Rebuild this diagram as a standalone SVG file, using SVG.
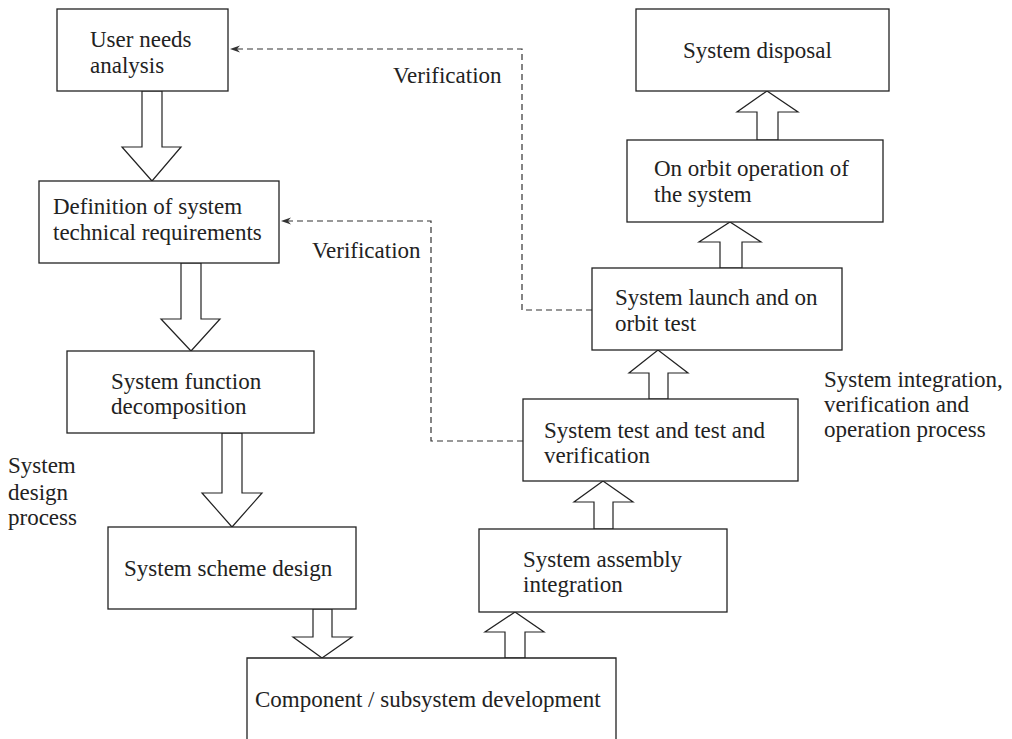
<svg xmlns="http://www.w3.org/2000/svg" width="1012" height="739" viewBox="0 0 1012 739">
  <style>
    .box { fill: #fff; stroke: #222; stroke-width: 1.3; }
    .flow { fill: #fff; stroke: #222; stroke-width: 1.2; stroke-linejoin: miter; }
    .dash { fill: none; stroke: #333; stroke-width: 1.2; stroke-dasharray: 6 4; }
    .tip { fill: #333; stroke: none; }
    text { font-family: "Liberation Serif", "Times New Roman", serif; font-size: 23px; fill: #222; }
  </style>
  <defs>
    <!-- small barbed arrowhead pointing left, tip at origin -->
    <path id="barb" class="tip" d="M0,0 L10,-3.5 L7,0 L10,3.5 Z"/>
  </defs>

  <rect width="1012" height="739" fill="#fff"/>

  <!-- hollow block arrows and dashed feedback lines -->
  <g id="connectors">
    <!-- design chain (downward) -->
    <polygon class="flow" points="142,91 162,91 162,147 181,147 152,181 122,147 142,147"/>
    <polygon class="flow" points="181,263 201,263 201,319 220,319 191,351 161,319 181,319"/>
    <polygon class="flow" points="222,433 242,433 242,493 262,493 232,527 202,493 222,493"/>
    <polygon class="flow" points="313,609 332,609 332,637 352,637 322,658 293,637 313,637"/>
    <!-- integration chain (upward) -->
    <polygon class="flow" points="505,658 525,658 525,632 544,632 515,612 485,632 505,632"/>
    <polygon class="flow" points="594,529 613,529 613,502 633,502 603,481 574,502 594,502"/>
    <polygon class="flow" points="649,399 668,399 668,373 688,373 658,350 629,373 649,373"/>
    <polygon class="flow" points="720,268 742,268 742,242 761,242 730,222 699,242 720,242"/>
    <polygon class="flow" points="757,140 778,140 778,112 798,112 767,91 737,112 757,112"/>
    <!-- verification feedback -->
    <path class="dash" d="M592,310 H522 V49 H236"/>
    <use href="#barb" x="230" y="49"/>
    <path class="dash" d="M523,441 H431 V221 H287"/>
    <use href="#barb" x="281" y="221"/>
    <text x="393" y="83">Verification</text>
    <text x="312" y="258">Verification</text>
  </g>

  <g id="user-needs">
    <rect class="box" x="57" y="9" width="171" height="82"/>
    <text x="90" y="47">User needs</text>
    <text x="90" y="73">analysis</text>
  </g>

  <g id="tech-requirements">
    <rect class="box" x="39" y="181" width="240" height="82"/>
    <text x="53" y="214">Definition of system</text>
    <text x="53" y="240">technical requirements</text>
  </g>

  <g id="function-decomposition">
    <rect class="box" x="67" y="351" width="247" height="82"/>
    <text x="111" y="389">System function</text>
    <text x="111" y="414">decomposition</text>
  </g>

  <g id="scheme-design">
    <rect class="box" x="108" y="527" width="248" height="82"/>
    <text x="124" y="576">System scheme design</text>
  </g>

  <g id="component-development">
    <path class="box" d="M247,745 V658 H616 V745"/>
    <text x="255" y="707">Component / subsystem development</text>
  </g>

  <g id="assembly-integration">
    <rect class="box" x="479" y="529" width="248" height="83"/>
    <text x="523" y="567">System assembly</text>
    <text x="523" y="592">integration</text>
  </g>

  <g id="test-verification">
    <rect class="box" x="523" y="399" width="275" height="82"/>
    <text x="544" y="438">System test and test and</text>
    <text x="544" y="463">verification</text>
  </g>

  <g id="launch-test">
    <rect class="box" x="592" y="268" width="250" height="82"/>
    <text x="615" y="305">System launch and on</text>
    <text x="615" y="331">orbit test</text>
  </g>

  <g id="orbit-operation">
    <rect class="box" x="627" y="140" width="256" height="82"/>
    <text x="654" y="176">On orbit operation of</text>
    <text x="654" y="202">the system</text>
  </g>

  <g id="disposal">
    <rect class="box" x="636" y="9" width="253" height="82"/>
    <text x="683" y="58">System disposal</text>
  </g>

  <g id="phase-labels">
    <text x="8" y="473">System</text>
    <text x="8" y="500">design</text>
    <text x="8" y="525">process</text>
    <text x="824" y="387">System integration,</text>
    <text x="824" y="412">verification and</text>
    <text x="824" y="437">operation process</text>
  </g>
</svg>
